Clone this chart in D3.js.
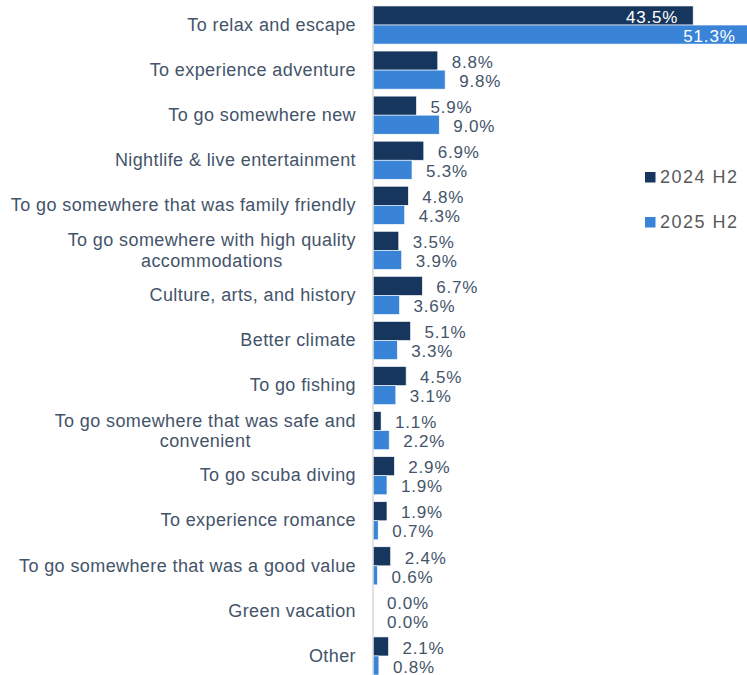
<!DOCTYPE html>
<html>
<head>
<meta charset="utf-8">
<script src="https://cdn.jsdelivr.net/npm/d3@7"></script>
<style>
  html, body { margin: 0; padding: 0; background: #fff; }
  svg { display: block; font-family: Arial, "Liberation Sans", sans-serif; }
</style>
</head>
<body>
<svg id="chart" width="747" height="675"></svg>
<script>
const categories = [
  ["To relax and escape"],
  ["To experience adventure"],
  ["To go somewhere new"],
  ["Nightlife & live entertainment"],
  ["To go somewhere that was family friendly"],
  ["To go somewhere with high quality", "accommodations"],
  ["Culture, arts, and history"],
  ["Better climate"],
  ["To go fishing"],
  ["To go somewhere that was safe and", "convenient"],
  ["To go scuba diving"],
  ["To experience romance"],
  ["To go somewhere that was a good value"],
  ["Green vacation"],
  ["Other"]
];
const seriesNames = ["2024 H2", "2025 H2"];
const values2024 = [43.5, 8.8, 5.9, 6.9, 4.8, 3.5, 6.7, 5.1, 4.5, 1.1, 2.9, 1.9, 2.4, 0.0, 2.1];
const values2025 = [51.3, 9.8, 9.0, 5.3, 4.3, 3.9, 3.6, 3.3, 3.1, 2.2, 1.9, 0.7, 0.6, 0.0, 0.8];
const colors = ["#17365d", "#3a84d7"];

const svg = d3.select("#chart");
const catKeys = categories.map(c => c.join(" "));
const x = d3.scaleLinear().domain([0, 50]).range([373, 741]);
const y = d3.scaleBand().domain(catKeys).range([-1, 682]).padding(0.155);
const y1 = d3.scaleBand().domain(seriesNames).range([0, y.bandwidth()]);

const data = catKeys.map((k, i) => ({ key: k, lines: categories[i], vals: [values2024[i], values2025[i]] }));

const g = svg.append("g").selectAll("g").data(data).join("g")
  .attr("transform", d => `translate(0,${y(d.key)})`);

g.selectAll("rect").data(d => d.vals.map((v, j) => ({ v, s: seriesNames[j], j })))
  .join("rect")
  .attr("x", x(0))
  .attr("y", d => y1(d.s))
  .attr("width", d => x(d.v) - x(0))
  .attr("height", y1.bandwidth())
  .attr("fill", d => colors[d.j])
  .attr("stroke", "#ffffff")
  .attr("stroke-width", 0.6);

g.selectAll("text.val").data(d => d.vals.map((v, j) => ({ v, s: seriesNames[j], j })))
  .join("text")
  .attr("class", "val")
  .attr("x", d => d.v > 40 ? x(d.v) - 15 : x(d.v) + 14)
  .attr("y", d => y1(d.s) + y1.bandwidth() / 2 + 7.2)
  .attr("text-anchor", d => d.v > 40 ? "end" : "start")
  .attr("fill", d => d.v > 40 ? "#ffffff" : "#44546a")
  .style("font-size", "17px")
  .style("letter-spacing", "0.8px")
  .text(d => d.v.toFixed(1) + "%");

// axis line
svg.append("line")
  .attr("x1", x(0)).attr("x2", x(0))
  .attr("y1", 5).attr("y2", 675)
  .attr("stroke", "#d9d9d9").attr("stroke-width", 1.5);

// category labels
const labelRight = 356;
g.each(function(d) {
  const cy = y.bandwidth() / 2;
  const sel = d3.select(this);
  if (d.lines.length === 1) {
    sel.append("text")
      .attr("x", labelRight).attr("y", cy + 5.7)
      .attr("text-anchor", "end")
      .attr("fill", "#44546a")
      .style("font-size", "18px")
      .style("letter-spacing", "0.4px")
      .text(d.lines[0]);
  } else {
    const t1 = sel.append("text")
      .attr("y", cy - 4)
      .attr("fill", "#44546a")
      .style("font-size", "18px")
      .style("letter-spacing", "0.4px")
      .attr("text-anchor", "middle")
      .text(d.lines[0]);
    const w = t1.node().getComputedTextLength();
    const cx = labelRight - w / 2;
    t1.attr("x", cx);
    sel.append("text")
      .attr("x", cx).attr("y", cy + 16.7)
      .attr("text-anchor", "middle")
      .attr("fill", "#44546a")
      .style("font-size", "18px")
      .style("letter-spacing", "0.4px")
      .text(d.lines[1]);
  }
});

// legend
const legend = svg.append("g").selectAll("g").data(seriesNames).join("g")
  .attr("transform", (d, i) => `translate(645,${172 + i * 45})`);
legend.append("rect").attr("width", 10.5).attr("height", 10.5).attr("fill", (d, i) => colors[i]);
legend.append("text").attr("x", 15).attr("y", 11)
  .attr("fill", "#595959").style("font-size", "18px").style("letter-spacing", "1.5px")
  .text(d => d);
</script>
</body>
</html>
